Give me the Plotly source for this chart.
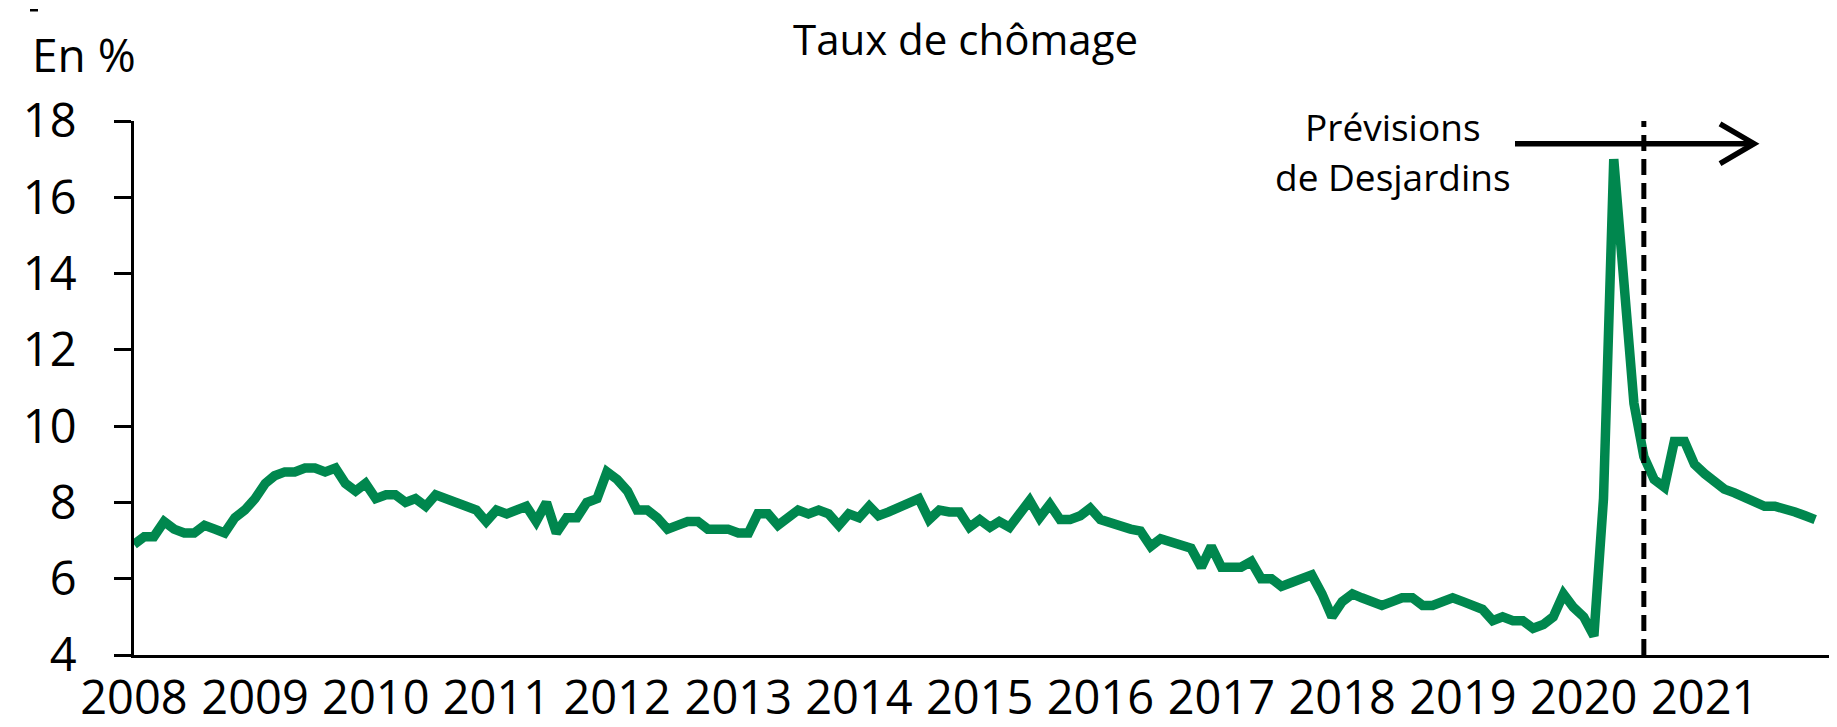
import pandas as pd
import plotly.graph_objects as go

# ---- data (monthly unemployment rate, %) ----
rate_2008 = [6.9, 7.1, 7.1, 7.5, 7.3, 7.2, 7.2, 7.4, 7.3, 7.2, 7.6, 7.8]
rate_2009 = [8.1, 8.5, 8.7, 8.8, 8.8, 8.9, 8.9, 8.8, 8.9, 8.5, 8.3, 8.5]
rate_2010 = [8.1, 8.2, 8.2, 8.0, 8.1, 7.9, 8.2, 8.1, 8.0, 7.9, 7.8, 7.5]
rate_2011 = [7.8, 7.7, 7.8, 7.9, 7.5, 8.0, 7.2, 7.6, 7.6, 8.0, 8.1, 8.8]
rate_2012 = [8.6, 8.3, 7.8, 7.8, 7.6, 7.3, 7.4, 7.5, 7.5, 7.3, 7.3, 7.3]
rate_2013 = [7.2, 7.2, 7.7, 7.7, 7.4, 7.6, 7.8, 7.7, 7.8, 7.7, 7.4, 7.7]
rate_2014 = [7.6, 7.9, 7.65, 7.75, 7.85, 7.95, 8.1, 7.55, 7.8, 7.75, 7.75, 7.35]
rate_2015 = [7.55, 7.35, 7.5, 7.35, 7.75, 8.05, 7.6, 7.95, 7.55, 7.55, 7.65, 7.85]
rate_2016 = [7.55, 7.45, 7.4, 7.3, 7.25, 6.85, 7.05, 6.95, 6.9, 6.8, 6.3, 6.85]
rate_2017 = [6.3, 6.3, 6.3, 6.45, 6.0, 6.0, 5.8, 5.9, 6.0, 6.1, 5.6, 5.0]
rate_2018 = [5.4, 5.6, 5.5, 5.4, 5.3, 5.4, 5.5, 5.5, 5.3, 5.3, 5.4, 5.5]
rate_2019 = [5.4, 5.3, 5.2, 4.9, 5.0, 4.9, 4.9, 4.7, 4.8, 5.0, 5.6, 5.25]
rate_2020 = [5.0, 4.5, 8.1, 17.0, 13.8, 10.6, 9.2, 8.6, 8.4, 9.6, 9.6, 9.0]
rate_2021 = [8.75, 8.5, 8.35, 8.25, 8.15, 8.0, 7.9, 7.9, 7.85, 7.75, 7.65, 7.55]

start_month = "2008-01-01"
end_month = "2021-12-01"
forecast_start = "2020-07-01"
y_ticks = [4, 6, 8, 10, 12, 14, 16, 18]

title_text = "Taux de chômage"
unit_text = "En %"
forecast_line1 = "Prévisions"
forecast_line2 = "de Desjardins"

rate = (rate_2008 + rate_2009 + rate_2010 + rate_2011 + rate_2012 + rate_2013 + rate_2014
        + rate_2015 + rate_2016 + rate_2017 + rate_2018 + rate_2019 + rate_2020 + rate_2021)
months = pd.date_range(start_month, end_month, freq="MS")

# ---- layout geometry (pixels) ----
W, H = 1837, 727
PL, PR, PT, PB = 126, 1830, 113, 653
GREEN = "#00874E"
FONT = "Open Sans"


def px(x):
    return (x - PL) / (PR - PL)


def py(y):
    return (PB - y) / (PB - PT)


fig = go.Figure()
fig.add_trace(go.Scatter(
    x=months, y=rate, mode="lines",
    line=dict(color=GREEN, width=9.5),
    hoverinfo="skip", showlegend=False,
))

fig.update_layout(
    width=W, height=H,
    margin=dict(l=PL, r=W - PR, t=PT, b=H - PB, pad=0),
    paper_bgcolor="white", plot_bgcolor="white",
    font=dict(family=FONT, color="black"),
    showlegend=False,
)

fig.update_xaxes(
    type="date",
    range=["2008-01-01", "2022-02-08"],
    tick0="2008-01-01", dtick="M12", tickformat="%Y",
    ticks="", showgrid=False, zeroline=False,
    showline=True, linecolor="black", linewidth=3,
    tickfont=dict(family=FONT, size=47, color="black"),
)
fig.update_yaxes(
    range=[4, 18], tickvals=y_ticks,
    ticks="outside", ticklen=17, tickwidth=3, tickcolor="black",
    showgrid=False, zeroline=False,
    showline=True, linecolor="black", linewidth=3,
    tickfont=dict(family=FONT, size=47, color="black"),
    ticklabelstandoff=28,
)

# dashed vertical line marking start of forecasts
fig.add_shape(type="line", xref="x", yref="y",
              x0=forecast_start, x1=forecast_start, y0=4, y1=18,
              line=dict(color="black", width=5, dash="16px,8px"))

# arrow
fig.add_shape(type="line", xref="paper", yref="paper",
              x0=px(1507), x1=px(1742), y0=py(136), y1=py(136),
              line=dict(color="black", width=5.5))
fig.add_shape(type="path", xref="paper", yref="paper",
              path=f"M {px(1712)},{py(116)} L {px(1746)},{py(136)} L {px(1712)},{py(156)}",
              line=dict(color="black", width=5.5))

# small mark at the top-left corner of the original
fig.add_shape(type="line", xref="paper", yref="paper",
              x0=px(22), x1=px(30), y0=py(1), y1=py(1),
              line=dict(color="black", width=2.5))

fig.add_annotation(text=title_text, xref="paper", yref="paper",
                   x=px(957), y=py(30), xanchor="center", yanchor="middle",
                   showarrow=False, font=dict(family=FONT, size=42, color="black"))
fig.add_annotation(text=unit_text, xref="paper", yref="paper",
                   x=px(22), y=py(45), xanchor="left", yanchor="middle",
                   showarrow=False, font=dict(family=FONT, size=46, color="black"))
fig.add_annotation(text=forecast_line1, xref="paper", yref="paper",
                   x=px(1385), y=py(119), xanchor="center", yanchor="middle",
                   showarrow=False, font=dict(family=FONT, size=37, color="black"))
fig.add_annotation(text=forecast_line2, xref="paper", yref="paper",
                   x=px(1385), y=py(169), xanchor="center", yanchor="middle",
                   showarrow=False, font=dict(family=FONT, size=37, color="black"))

fig.write_html("out.html")
